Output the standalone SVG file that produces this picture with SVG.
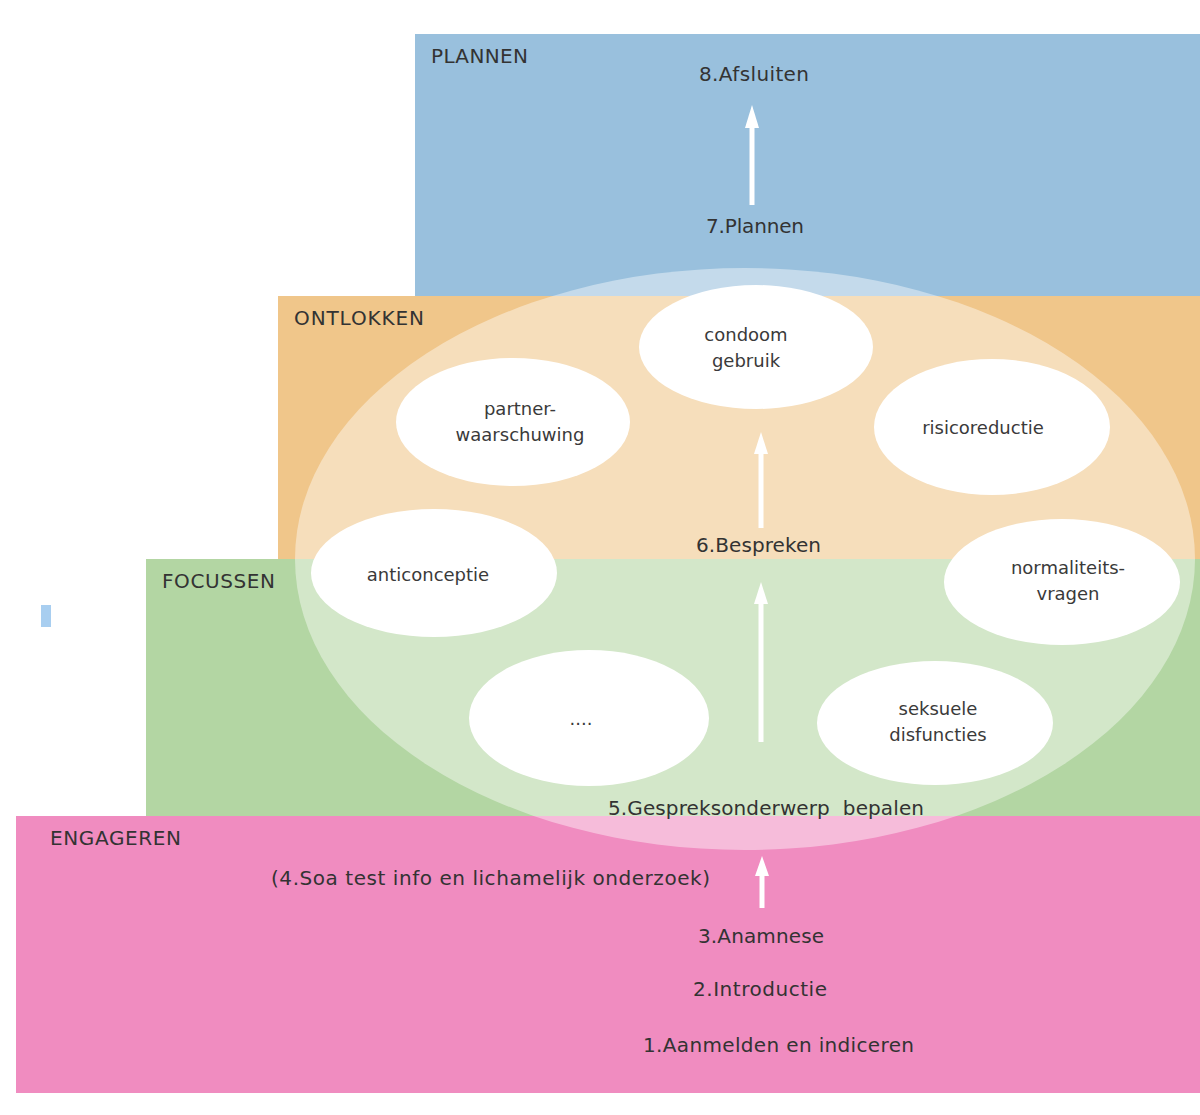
<svg xmlns="http://www.w3.org/2000/svg" width="1200" height="1115" viewBox="0 0 1200 1115">
<defs>
<style>
text{font-family:"DejaVu Sans","Liberation Sans",sans-serif;font-size:20px;fill:#333}
.c{text-anchor:middle}
.t{font-size:18px;fill:#3a3a3a}
.bubble{fill:#ffffff}
.arr{stroke:#ffffff;stroke-width:5;fill:none}
.head{fill:#ffffff}
</style>
</defs>
<rect width="1200" height="1115" fill="#ffffff"/>
<g id="plannen">
<rect x="415" y="34" width="785" height="262" fill="#99c0dd"/>
<text x="431" y="63" fill="#253548" textLength="97" lengthAdjust="spacing">PLANNEN</text>
</g>
<g id="ontlokken">
<rect x="278" y="296" width="922" height="263" fill="#f0c68a"/>
<text x="294" y="325" fill="#3a2a10" textLength="130" lengthAdjust="spacing">ONTLOKKEN</text>
</g>
<g id="focussen">
<rect x="146" y="559" width="1054" height="257" fill="#b3d6a3"/>
<text x="162" y="588" fill="#1f351f" textLength="113" lengthAdjust="spacing">FOCUSSEN</text>
</g>
<g id="engageren">
<rect x="16" y="816" width="1184" height="277" fill="#f08cc0"/>
<text x="50" y="845" fill="#4a1a3a" textLength="131" lengthAdjust="spacing">ENGAGEREN</text>
</g>
<rect id="marker-blue" x="41" y="605" width="10" height="22" fill="#a8cef0"/>
<g id="big-ellipse">
<ellipse cx="745" cy="559" rx="450" ry="291" fill="#ffffff" fill-opacity="0.42"/>
</g>
<g id="topics">
<g id="condoom"><ellipse class="bubble" cx="756" cy="347" rx="117" ry="62"/><text class="c t" x="746" y="341">condoom</text><text class="c t" x="746" y="367">gebruik</text></g>
<g id="partner"><ellipse class="bubble" cx="513" cy="422" rx="117" ry="64"/><text class="c t" x="520" y="415">partner-</text><text class="c t" x="520" y="441">waarschuwing</text></g>
<g id="risico"><ellipse class="bubble" cx="992" cy="427" rx="118" ry="68"/><text class="c t" x="983" y="434">risicoreductie</text></g>
<g id="anticonceptie"><ellipse class="bubble" cx="434" cy="573" rx="123" ry="64"/><text class="c t" x="428" y="581">anticonceptie</text></g>
<g id="normaliteit"><ellipse class="bubble" cx="1062" cy="582" rx="118" ry="63"/><text class="c t" x="1068" y="574">normaliteits-</text><text class="c t" x="1068" y="600">vragen</text></g>
<g id="dots"><ellipse class="bubble" cx="589" cy="718" rx="120" ry="68"/><text class="c t" x="581" y="725">....</text></g>
<g id="seksuele"><ellipse class="bubble" cx="935" cy="723" rx="118" ry="62"/><text class="c t" x="938" y="715">seksuele</text><text class="c t" x="938" y="741">disfuncties</text></g>
</g>
<g id="steps">
<text x="699" y="81" textLength="110" lengthAdjust="spacing">8.Afsluiten</text>
<text x="706" y="233" textLength="98" lengthAdjust="spacing">7.Plannen</text>
<text x="696" y="552" textLength="125" lengthAdjust="spacing">6.Bespreken</text>
<text x="608" y="815" textLength="316" lengthAdjust="spacing" xml:space="preserve">5.Gespreksonderwerp  bepalen</text>
<text x="271" y="885" textLength="439" lengthAdjust="spacing">(4.Soa test info en lichamelijk onderzoek)</text>
<text x="698" y="943" textLength="126" lengthAdjust="spacing">3.Anamnese</text>
<text x="693" y="996" textLength="134" lengthAdjust="spacing">2.Introductie</text>
<text x="643" y="1052" textLength="271" lengthAdjust="spacing">1.Aanmelden en indiceren</text>
</g>
<g id="connectors">
<line class="arr" x1="752" y1="205" x2="752" y2="125"/><polygon class="head" points="752,105 745,128 759,128"/>
<line class="arr" x1="761" y1="528" x2="761" y2="450"/><polygon class="head" points="761,432 754,454 768,454"/>
<line class="arr" x1="761" y1="742" x2="761" y2="600"/><polygon class="head" points="761,582 754,604 768,604"/>
<line class="arr" x1="762" y1="908" x2="762" y2="870"/><polygon class="head" points="762,856 755,876 769,876"/>
</g>
</svg>
